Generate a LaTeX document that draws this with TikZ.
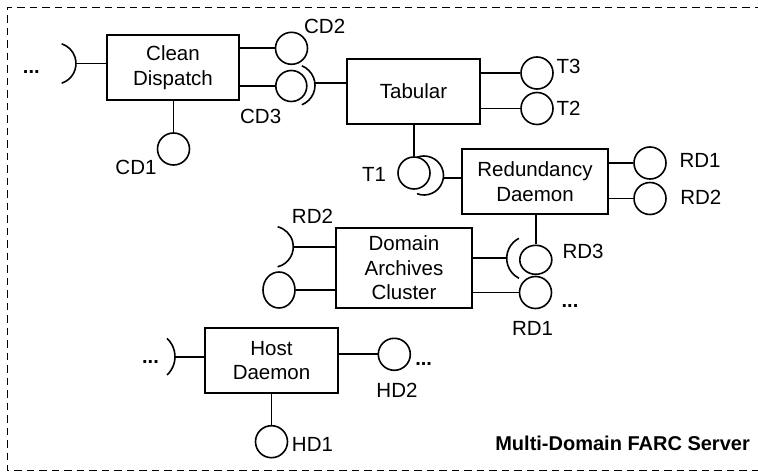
\documentclass[tikz,border=0pt]{standalone}
\usepackage{fontspec}
\setmainfont{Liberation Sans}
\usetikzlibrary{calc,shapes.geometric}
\begin{document}
\begin{tikzpicture}[x=1pt,y=-1pt,
  every node/.style={font=\fontsize{20.5}{24.5}\selectfont},
  comp/.style={draw, line width=1.7pt, align=center, inner sep=0pt},
  ball/.style={draw, circle, line width=1.6pt, minimum size=32pt, inner sep=0pt},
  oval/.style={ball, ellipse},
  wire/.style={line width=1.7pt},
  cup/.style={line width=1.6pt},
  lbl/.style={anchor=base, inner sep=0pt},
  dots/.style={lbl, font=\fontsize{20}{24}\selectfont\bfseries},
  frame/.style={line width=1.5pt, dash pattern=on 7.5pt off 5pt}]
\useasboundingbox (0,0) rectangle (758,473);

% server boundary (open to the right)
\draw[frame] (762,7.3) -- (7.3,7.3) -- (7.3,470.7) -- (762,470.7);

% components
\node[comp, minimum width=132pt, minimum height=65pt] (cd)  at (173,67.5)   {Clean\\Dispatch};
\node[comp, minimum width=133pt, minimum height=65pt] (tab) at (413.5,91.5) {Tabular};
\node[comp, minimum width=146pt, minimum height=65pt] (rdm) at (535,181.5)  {Redundancy\\Daemon};
\node[comp, minimum width=136pt, minimum height=80pt] (dac) at (404,268)    {Domain\\Archives\\Cluster};
\node[comp, minimum width=133pt, minimum height=65pt] (hd)  at (271.5,360.5){Host\\Daemon};

% provided interfaces
\node[ball] (cd2)  at (291.5,48.3) {};
\node[ball, minimum size=31pt] (cd3) at (291.3,86) {};
\node[ball] (cd1)  at (173.5,149) {};
\node[ball] (t3)   at (537,73) {};
\node[ball] (t2)   at (537,108.5) {};
\node[ball] (t1)   at (414,173) {};
\node[ball] (rd1)  at (650,163) {};
\node[ball] (rd2)  at (650,198.5) {};
\node[oval, minimum width=32pt, minimum height=29pt] (rd3) at (535.8,259.8) {};
\node[ball] (rd1b) at (535.5,292.5) {};
\node[oval, minimum width=32pt, minimum height=36pt] (dacin) at (279,290) {};
\node[ball] (hd2)  at (394.3,354.3) {};
\node[ball] (hd1)  at (271.5,441.7) {};

% required interfaces (sockets): centre, arc, contact point
\coordinate (cds)  at (55.3,63.5);
\draw[cup] ($(cds)+(72:20.7)$) arc[start angle=72, end angle=-72, radius=20.7];
\coordinate (cdsp) at (76,63.5);

\coordinate (tabs) at (294,85.3);
\draw[cup] ($(tabs)+(68:21)$) arc[start angle=68, end angle=-68, radius=21];
\coordinate (tabsp) at (314.8,83);

\coordinate (rdms) at (424,175.5);
\draw[cup] ($(rdms)+(111:19.5)$) arc[start angle=111, end angle=-111, radius=19.5];
\coordinate (rdmsp) at (443.2,178);

\coordinate (dacs) at (272.7,246.8);
\draw[cup] ($(dacs)+(76:20.6)$) arc[start angle=76, end angle=-76, radius=20.6];
\coordinate (dacsp) at (293.3,246.8);

\coordinate (rd3s) at (529.1,258.3);
\draw[cup] ($(rd3s)+(117:22.4)$) arc[start angle=117, end angle=243, radius=22.4];
\coordinate (rd3sp) at (506.7,258.3);

\coordinate (hds) at (150,356.7);
\draw[cup] ($(hds)+(47:25)$) arc[start angle=47, end angle=-47, radius=25];
\coordinate (hdsp) at (175,356.7);

% connectors
\draw[wire] (cdsp) -- (cdsp -| cd.west);
\draw[wire] (cd.east |- cd2) -- (cd2.west);
\draw[wire] (cd.east |- cd3) -- (cd3.west);
\draw[wire] (cd.south -| cd1) -- (cd1.north);
\draw[wire] (tabsp) -- (tabsp -| tab.west);
\draw[wire] (tab.east |- t3) -- (t3.west);
\draw[wire] (tab.east |- t2) -- (t2.west);
\draw[wire] (tab.south -| t1) -- (t1.north);
\draw[wire] (rdmsp) -- (rdmsp -| rdm.west);
\draw[wire] (rdm.east |- rd1) -- (rd1.west);
\draw[wire] (rdm.east |- rd2) -- (rd2.west);
\draw[wire] (rdm.south -| rd3) -- (rd3.north);
\draw[wire] (dac.east |- rd3sp) -- (rd3sp);
\draw[wire] (dac.east |- rd1b) -- (rd1b.west);
\draw[wire] (dacsp) -- (dacsp -| dac.west);
\draw[wire] (dacin.east) -- (dacin.east -| dac.west);
\draw[wire] (hdsp) -- (hdsp -| hd.west);
\draw[wire] (hd.east |- hd2) -- (hd2.west);
\draw[wire] (hd.south -| hd1) -- (hd1.north);

% interface labels
\node[lbl] (lcd2) at (324.7,34)    {CD2};
\node[lbl] (lcd3) at (260.7,123.3) {CD3};
\node[lbl] (lcd1) at (136,175)     {CD1};
\node[lbl] (lt3)  at (568.5,74)    {T3};
\node[lbl] (lt2)  at (568.5,116)   {T2};
\node[lbl] (lt1)  at (374,181.7)   {T1};
\node[lbl] (lrd1) at (700,167.7)   {RD1};
\node[lbl] (lrd2) at (700.8,205)   {RD2};
\node[lbl] (lrd2b) at (312.5,224)  {RD2};
\node[lbl] (lrd3) at (583,258.3)   {RD3};
\node[lbl] (lrd1b) at (532.5,335)  {RD1};
\node[lbl] (lhd2) at (397,397)     {HD2};
\node[lbl] (lhd1) at (312.5,451.7) {HD1};

% continuation marks
\node[dots] (d1) at (31.3,73.3)  {...};
\node[dots] (d2) at (570,307.7)  {...};
\node[dots] (d3) at (150.5,363.3){...};
\node[dots] (d4) at (423.7,365)  {...};

% server name
\node[lbl, anchor=base east, font=\fontsize{20}{24}\selectfont\bfseries] (srv) at (750,450) {Multi-Domain FARC Server};
\end{tikzpicture}
\end{document}
